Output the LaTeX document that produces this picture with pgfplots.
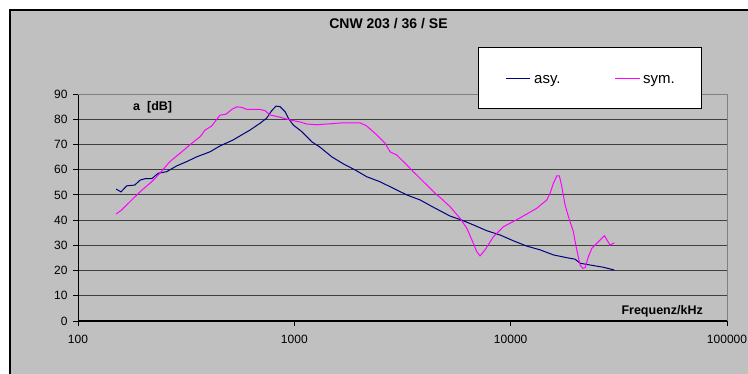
\documentclass[border=0pt]{standalone}
\usepackage{pgfplots}
\pgfplotsset{compat=1.18}
\usepackage{fontspec}
\setmainfont{Liberation Sans}
\definecolor{bg}{RGB}{192,192,192}
\definecolor{asyc}{RGB}{0,0,128}
\definecolor{symc}{RGB}{255,0,255}
\definecolor{frame}{RGB}{128,128,128}
\begin{document}
\begin{tikzpicture}[x=1pt,y=1pt]
\useasboundingbox (0,0) rectangle (748,374);
\fill[bg] (10,0) rectangle (748,364);
\draw[black, line width=1.2pt] (10,0) -- (10,364) -- (748,364);
\begin{axis}[
  at={(78pt,53pt)}, anchor=south west,
  width=649pt, height=227pt, scale only axis,
  xmode=log, xmin=100, xmax=100000, ymin=0, ymax=90,
  xtick={100,1000,10000,100000}, xticklabels={100,1000,10000,100000},
  xminorticks=false,
  ytick={0,10,...,90}, yticklabels={0,10,20,30,40,50,60,70,80,90},
  axis lines=left, axis line style={-, black, line width=1pt},
  x axis line style={line width=1.6pt},
  ymajorgrids, grid style={black!75, line width=0.8pt},
  tick align=outside, major tick length=5pt, tick style={black, line width=0.8pt},
  ticklabel style={font=\fontsize{12}{14}\selectfont},
  xticklabel style={yshift=-6pt},
  yticklabel style={xshift=-2pt},
]
\addplot[asyc, line width=1pt] coordinates {
(150,52.3)(158,51.2)(168,53.6)(183,53.9)(194,55.9)(204,56.4)(219,56.4)(235,58.6)(257,59.2)(286,61.5)(318,63.2)(354,65.1)(408,67.1)(453,69.4)(522,71.8)(561,73.4)(624,75.7)(694,78.4)(745,80.4)(786,83.4)(823,85.2)(859,85.0)(906,83.0)(938,80.4)(989,77.7)(1082,75.1)(1203,71.1)(1315,68.9)(1489,65.1)(1685,62.3)(1909,59.9)(2161,57.2)(2490,55.2)(2870,52.6)(3308,50.0)(3812,48.0)(4393,45.1)(5247,41.6)(5941,40.0)(6723,38.1)(7754,35.8)(8933,34.1)(10290,31.8)(11870,29.7)(13680,28.2)(15760,26.2)(18170,25.1)(19860,24.5)(20940,22.9)(23290,22.2)(26830,21.3)(30150,20.2)
};
\addplot[symc, line width=1pt] coordinates {
(150,42.4)(159,44.0)(174,47.3)(194,51.3)(219,55.2)(235,57.9)(266,63.2)(302,67.1)(336,70.5)(367,73.1)(387,75.7)(415,77.3)(438,80.0)(453,81.6)(483,82.0)(514,83.9)(542,84.9)(571,84.7)(603,83.9)(646,83.9)(694,83.9)(732,83.4)(772,81.7)(859,80.8)(955,79.7)(1063,78.9)(1141,78.1)(1270,77.8)(1412,78.1)(1685,78.6)(2013,78.6)(2161,77.3)(2404,73.8)(2627,70.5)(2770,67.1)(2974,65.8)(3308,61.9)(3550,59.2)(4021,54.6)(4554,50.0)(4717,49.0)(5247,45.3)(5836,40.7)(6268,36.8)(6723,30.8)(6970,27.5)(7220,25.8)(7614,28.2)(8318,33.4)(9252,37.4)(10480,39.8)(11870,42.4)(13200,44.7)(14690,48.0)(15210,50.6)(15760,54.6)(16340,57.5)(16800,57.5)(17230,53.3)(17850,46.0)(18490,41.4)(19490,35.4)(20060,29.5)(20940,22.2)(21550,20.9)(22080,21.1)(22870,25.5)(23710,28.8)(25440,31.4)(27130,33.8)(28800,30.1)(30150,31.0)
};
\end{axis}
\draw[frame, line width=0.8pt] (78,280) -- (727,280) -- (727,53);
\node[font=\bfseries\fontsize{14}{16}\selectfont] at (388.5,350) {CNW 203 / 36 / SE};
\node[anchor=west, inner sep=0pt, font=\bfseries\fontsize{12.5}{14}\selectfont] at (133,267) {a\ \ [dB]};
\node[anchor=east, inner sep=0pt, font=\bfseries\fontsize{12.5}{14}\selectfont] at (703,63) {Frequenz/kHz};
\draw[fill=white, line width=0.9pt] (478,266) rectangle (701,327);
\draw[asyc, line width=1pt] (506,295) -- (530,295);
\node[anchor=base west, inner sep=0pt, font=\fontsize{15}{17}\selectfont] at (534,290.5) {asy.};
\draw[symc, line width=1pt] (615,295) -- (640,295);
\node[anchor=base west, inner sep=0pt, font=\fontsize{15}{17}\selectfont] at (643,290.5) {sym.};
\end{tikzpicture}
\end{document}
